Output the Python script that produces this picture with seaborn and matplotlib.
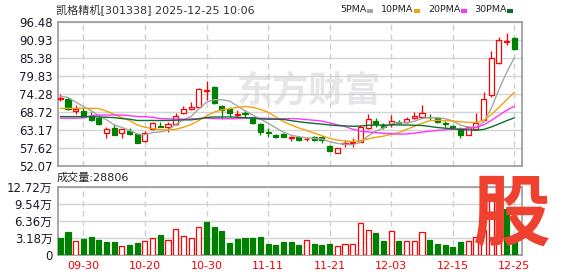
import numpy as np
import matplotlib
matplotlib.use("Agg")
import matplotlib.pyplot as plt
import seaborn as sns
from matplotlib.patches import Rectangle

# ---------------- data ----------------
opens = [72.75, 72.6, 69.14, 69.1, 67.5, 66.98, 62.15, 63.69, 62.15, 62.97,
         61.84, 59.68, 63.38, 64.25, 64.2, 65.0, 68.3, 69.55, 70.37, 75.3,
         76.54, 70.6, 69.55, 67.8, 68.3, 67.08, 65.0, 62.66, 61.73, 61.94,
         60.7, 61.0, 60.3, 61.0, 61.1, 58.24, 56.2, 58.96, 59.16, 59.6,
         63.8, 66.1, 64.7, 64.9, 65.6, 65.5, 66.8, 67.3, 67.3, 67.0,
         65.2, 64.3, 63.5, 61.6, 63.4, 66.3, 73.97, 83.7, 90.3, 91.4]
highs = [74.3, 73.25, 70.9, 69.85, 68.8, 67.3, 64.2, 64.9, 63.5, 63.69,
         62.15, 62.97, 65.75, 65.75, 65.75, 68.3, 70.6, 71.9, 76.0, 78.3,
         76.85, 70.9, 70.2, 69.34, 69.3, 67.3, 65.23, 63.7, 61.9, 62.3,
         61.3, 61.3, 61.1, 61.3, 61.4, 58.5, 57.7, 60.1, 60.7, 64.8,
         68.0, 67.0, 65.2, 67.8, 66.3, 67.3, 68.8, 70.9, 68.1, 67.1,
         65.95, 64.7, 64.2, 64.4, 68.3, 75.0, 87.5, 91.96, 93.0, 91.75]
lows = [72.2, 69.35, 68.0, 67.1, 65.95, 64.6, 60.8, 61.5, 60.8, 61.63,
        59.06, 59.5, 63.18, 64.0, 62.5, 64.7, 68.2, 69.4, 70.2, 72.4,
        71.2, 66.5, 67.3, 66.8, 67.3, 64.9, 61.6, 61.1, 60.6, 60.9,
        59.7, 59.7, 59.7, 59.7, 59.1, 56.6, 56.1, 57.8, 57.8, 59.5,
        63.5, 64.2, 63.6, 64.2, 64.9, 65.4, 66.7, 67.2, 66.3, 65.4,
        64.2, 63.5, 60.7, 61.5, 63.2, 66.1, 73.5, 83.6, 89.4, 87.8]
closes = [72.9, 69.55, 69.65, 67.3, 66.3, 65.0, 63.38, 61.73, 63.38, 61.94,
          59.27, 62.15, 65.23, 64.2, 65.1, 67.6, 69.55, 70.27, 75.82, 75.6,
          71.4, 69.34, 68.3, 68.2, 68.2, 65.23, 62.66, 62.15, 61.1, 61.1,
          60.9, 60.2, 60.5, 60.2, 60.1, 56.8, 57.6, 59.16, 59.37, 64.0,
          66.5, 65.0, 64.0, 66.0, 65.4, 66.5, 67.4, 68.3, 67.1, 65.5,
          65.0, 64.1, 61.7, 64.2, 65.2, 72.6, 85.3, 90.9, 90.5, 88.0]
volumes = [3.12, 4.22, 2.69, 2.94, 3.30, 2.75, 2.38, 2.38, 1.77, 1.83,
           2.20, 2.69, 3.24, 3.67, 2.87, 4.89, 3.61, 3.24, 5.32, 6.24,
           5.32, 4.40, 2.26, 2.94, 3.12, 3.12, 3.30, 2.08, 1.83, 2.38,
           2.45, 1.83, 2.87, 2.02, 1.83, 2.02, 1.77, 2.02, 2.02, 5.99,
           4.71, 4.04, 2.57, 4.53, 2.57, 2.69, 2.69, 4.34, 2.75, 2.08,
           1.83, 1.47, 2.43, 2.60, 3.40, 4.70, 11.50, 9.60, 8.55, 2.88]
ma5 = [73.6, 73.2, 71.8, 70.4, 69.14, 67.56, 66.33, 64.74, 63.96, 63.09,
       61.94, 61.69, 62.39, 62.56, 63.19, 64.86, 66.34, 67.34, 69.67, 71.77,
       72.53, 72.49, 72.09, 70.57, 69.09, 67.85, 66.52, 65.29, 63.87, 62.45,
       61.58, 61.09, 60.76, 60.58, 60.38, 59.56, 59.04, 58.77, 58.61, 59.39,
       61.33, 62.81, 63.77, 65.1, 65.38, 65.38, 65.86, 66.72, 66.94, 66.96,
       66.66, 66.0, 64.68, 64.1, 64.04, 65.56, 69.8, 75.64, 80.9, 85.46]
ma10 = [69.86, 69.86, 69.86, 69.86, 69.86, 69.8, 69.0, 68.0, 67.0, 66.11,
        64.75, 64.01, 63.57, 63.26, 63.14, 63.40, 64.02, 64.87, 66.11, 67.48,
        68.69, 69.41, 69.72, 70.12, 70.43, 70.19, 69.50, 68.69, 67.22, 65.77,
        64.72, 63.80, 63.02, 62.22, 61.41, 60.57, 60.07, 59.77, 59.59, 59.88,
        60.44, 60.92, 61.27, 61.85, 62.38, 63.35, 64.33, 65.25, 66.02, 66.17,
        66.02, 65.93, 65.70, 65.52, 65.50, 66.11, 67.90, 70.16, 72.50, 74.75]
ma20 = [66.8, 66.8, 66.8, 66.9, 67.6, 67.8, 67.8, 67.8, 67.8, 67.6,
        67.3, 67.3, 67.1, 66.7, 66.6, 66.6, 66.5, 66.6, 66.7, 66.80,
        66.72, 66.71, 66.64, 66.69, 66.78, 66.79, 66.76, 66.78, 66.67, 66.62,
        66.71, 66.61, 66.37, 66.17, 65.92, 65.38, 64.78, 64.23, 63.41, 62.83,
        62.58, 62.36, 62.15, 62.04, 61.90, 61.96, 62.20, 62.51, 62.81, 63.03,
        63.23, 63.43, 63.49, 63.69, 63.94, 64.73, 66.12, 67.70, 69.26, 70.46]
ma30 = [67.3, 67.3, 67.3, 67.3, 67.3, 67.2, 67.1, 67.0, 66.7, 66.5,
        66.1, 66.1, 66.1, 66.1, 66.1, 66.2, 66.3, 66.3, 66.6, 67.0,
        67.2, 67.2, 67.2, 67.1, 67.0, 66.8, 66.6, 66.5, 66.5, 66.45,
        66.05, 65.74, 65.44, 65.20, 64.99, 64.72, 64.53, 64.44, 64.31, 64.38,
        64.62, 64.71, 64.67, 64.73, 64.74, 64.71, 64.63, 64.57, 64.28, 63.94,
        63.73, 63.55, 63.33, 63.20, 63.10, 63.34, 64.10, 65.06, 66.04, 66.93]
tick_pos = [3, 11, 19, 27, 35, 43, 51, 59]
tick_labels = ["09-30", "10-20", "10-30", "11-11", "11-21", "12-03", "12-15", "12-25"]
price_ticks = [52.07, 57.62, 63.17, 68.72, 74.28, 79.83, 85.38, 90.93, 96.48]
vol_ticks = [0, 3.18, 6.36, 9.54, 12.72]
vol_tick_labels = ["0", "3.18万", "6.36万", "9.54万", "12.72万"]
ma_names = ["5PMA", "10PMA", "20PMA", "30PMA"]

# ---------------- style ----------------
sns.set_theme(style="white")
FONTS = ["DejaVu Sans", "Noto Sans CJK SC"]
plt.rcParams["font.family"] = FONTS

RED = "#ff0000"
GREEN = "#008000"
MA_COLORS = ["#a6a6a6", "#f2a20c", "#ff33ff", "#0b6f2f"]
SPINE = "#9a9a9a"
GRID = "#d4d4d4"

W, H = 578, 276
fig = plt.figure(figsize=(W / 100, H / 100), dpi=100)
fig.patch.set_facecolor("white")
ax = fig.add_axes([58 / W, (H - 166) / H, 464 / W, 144 / H])
axv = fig.add_axes([58 / W, (H - 255) / H, 464 / W, 68 / H])

o = np.array(opens); c = np.array(closes); hi = np.array(highs); lo = np.array(lows)
v = np.array(volumes)
x = np.arange(len(c))
up = c >= o
cand_col = np.where(up, RED, GREEN)
body_fc = np.where(up, "white", GREEN)
body_h = np.maximum(np.abs(c - o), 0.12)
body_b = np.minimum(o, c)

# volume colour: compared with previous close
prev = np.concatenate([[np.inf], c[:-1]])
vup = c > prev
vol_col = np.where(vup, RED, GREEN)
vol_fc = np.where(vup, "white", GREEN)

# ---------------- price panel ----------------
for a in (ax, axv):
    a.set_facecolor("white")
    a.set_xlim(-0.3, 60.0)
    a.set_xticks(tick_pos)
    a.grid(True, axis="x", color="#cfcfcf", lw=1, ls=(0, (4, 3)))
    a.grid(True, axis="y", color=GRID, lw=1, ls="-")
    a.set_axisbelow(True)
    for s in a.spines.values():
        s.set_color(SPINE)
        s.set_linewidth(1.2)
    a.tick_params(length=0)

ax.text(309 / W, 1 - 91 / H, "东方财富", transform=fig.transFigure, fontsize=26,
        fontweight="bold", color="#e6e6ea", ha="center", va="center",
        family=["Noto Sans CJK SC"], zorder=0.5)

ax.vlines(x, lo, hi, colors=cand_col, lw=0.9, zorder=2)
ax.bar(x, body_h, bottom=body_b, width=0.66, color=body_fc,
       edgecolor=cand_col, linewidth=0.9, zorder=3)

for name, vals, col in zip(ma_names, [ma5, ma10, ma20, ma30], MA_COLORS):
    sns.lineplot(x=x, y=vals, ax=ax, color=col, linewidth=1.0, zorder=4)

ax.set_ylim(price_ticks[0], price_ticks[-1])
ax.set_yticks(price_ticks)
ax.set_yticklabels([f"{t:.2f}" for t in price_ticks])
ax.tick_params(axis="y", labelsize=8.5, labelcolor="#1a1a2a", pad=4)
ax.tick_params(axis="x", labelbottom=False)
ax.set_xlabel(""); ax.set_ylabel("")

# ---------------- volume panel ----------------
axv.bar(x, v, width=0.66, color=vol_fc, edgecolor=vol_col, linewidth=0.9, zorder=3)
axv.set_ylim(0, 12.72)
axv.set_yticks(vol_ticks)
axv.set_yticklabels(vol_tick_labels)
axv.set_xticklabels(tick_labels)
axv.tick_params(axis="y", labelsize=8.5, labelcolor="#1a1a2a", pad=4)
axv.tick_params(axis="x", labelsize=8, labelcolor=RED, pad=4)

# ---------------- texts ----------------
fig.text(56 / W, 1 - 9.5 / H, "凯格精机[301338] 2025-12-25 10:06", fontsize=8,
         color="#333333", ha="left", va="center", family=FONTS)
leg_text_x = [340, 381, 428, 474]
leg_box_x = [367, 414, 461, 507]
for name, col, tx, bx in zip(ma_names, MA_COLORS, leg_text_x, leg_box_x):
    fig.text(tx / W, 1 - 10 / H, name, fontsize=6.8, color="#222222",
             ha="left", va="center")
    fig.add_artist(Rectangle((bx / W, 1 - 12.5 / H), 6 / W, 4 / H,
                             transform=fig.transFigure, color=col, lw=0))
fig.text(57 / W, 1 - 177.5 / H, "成交量:28806", fontsize=8, color="#222222",
         ha="left", va="center", family=FONTS)
fig.text(512 / W, 1 - 216 / H, "股", fontsize=56, fontweight="bold",
         color="#ee4130", ha="center", va="center", family=["Noto Sans CJK SC"])

fig.savefig("out.png", dpi=100, facecolor="white")
